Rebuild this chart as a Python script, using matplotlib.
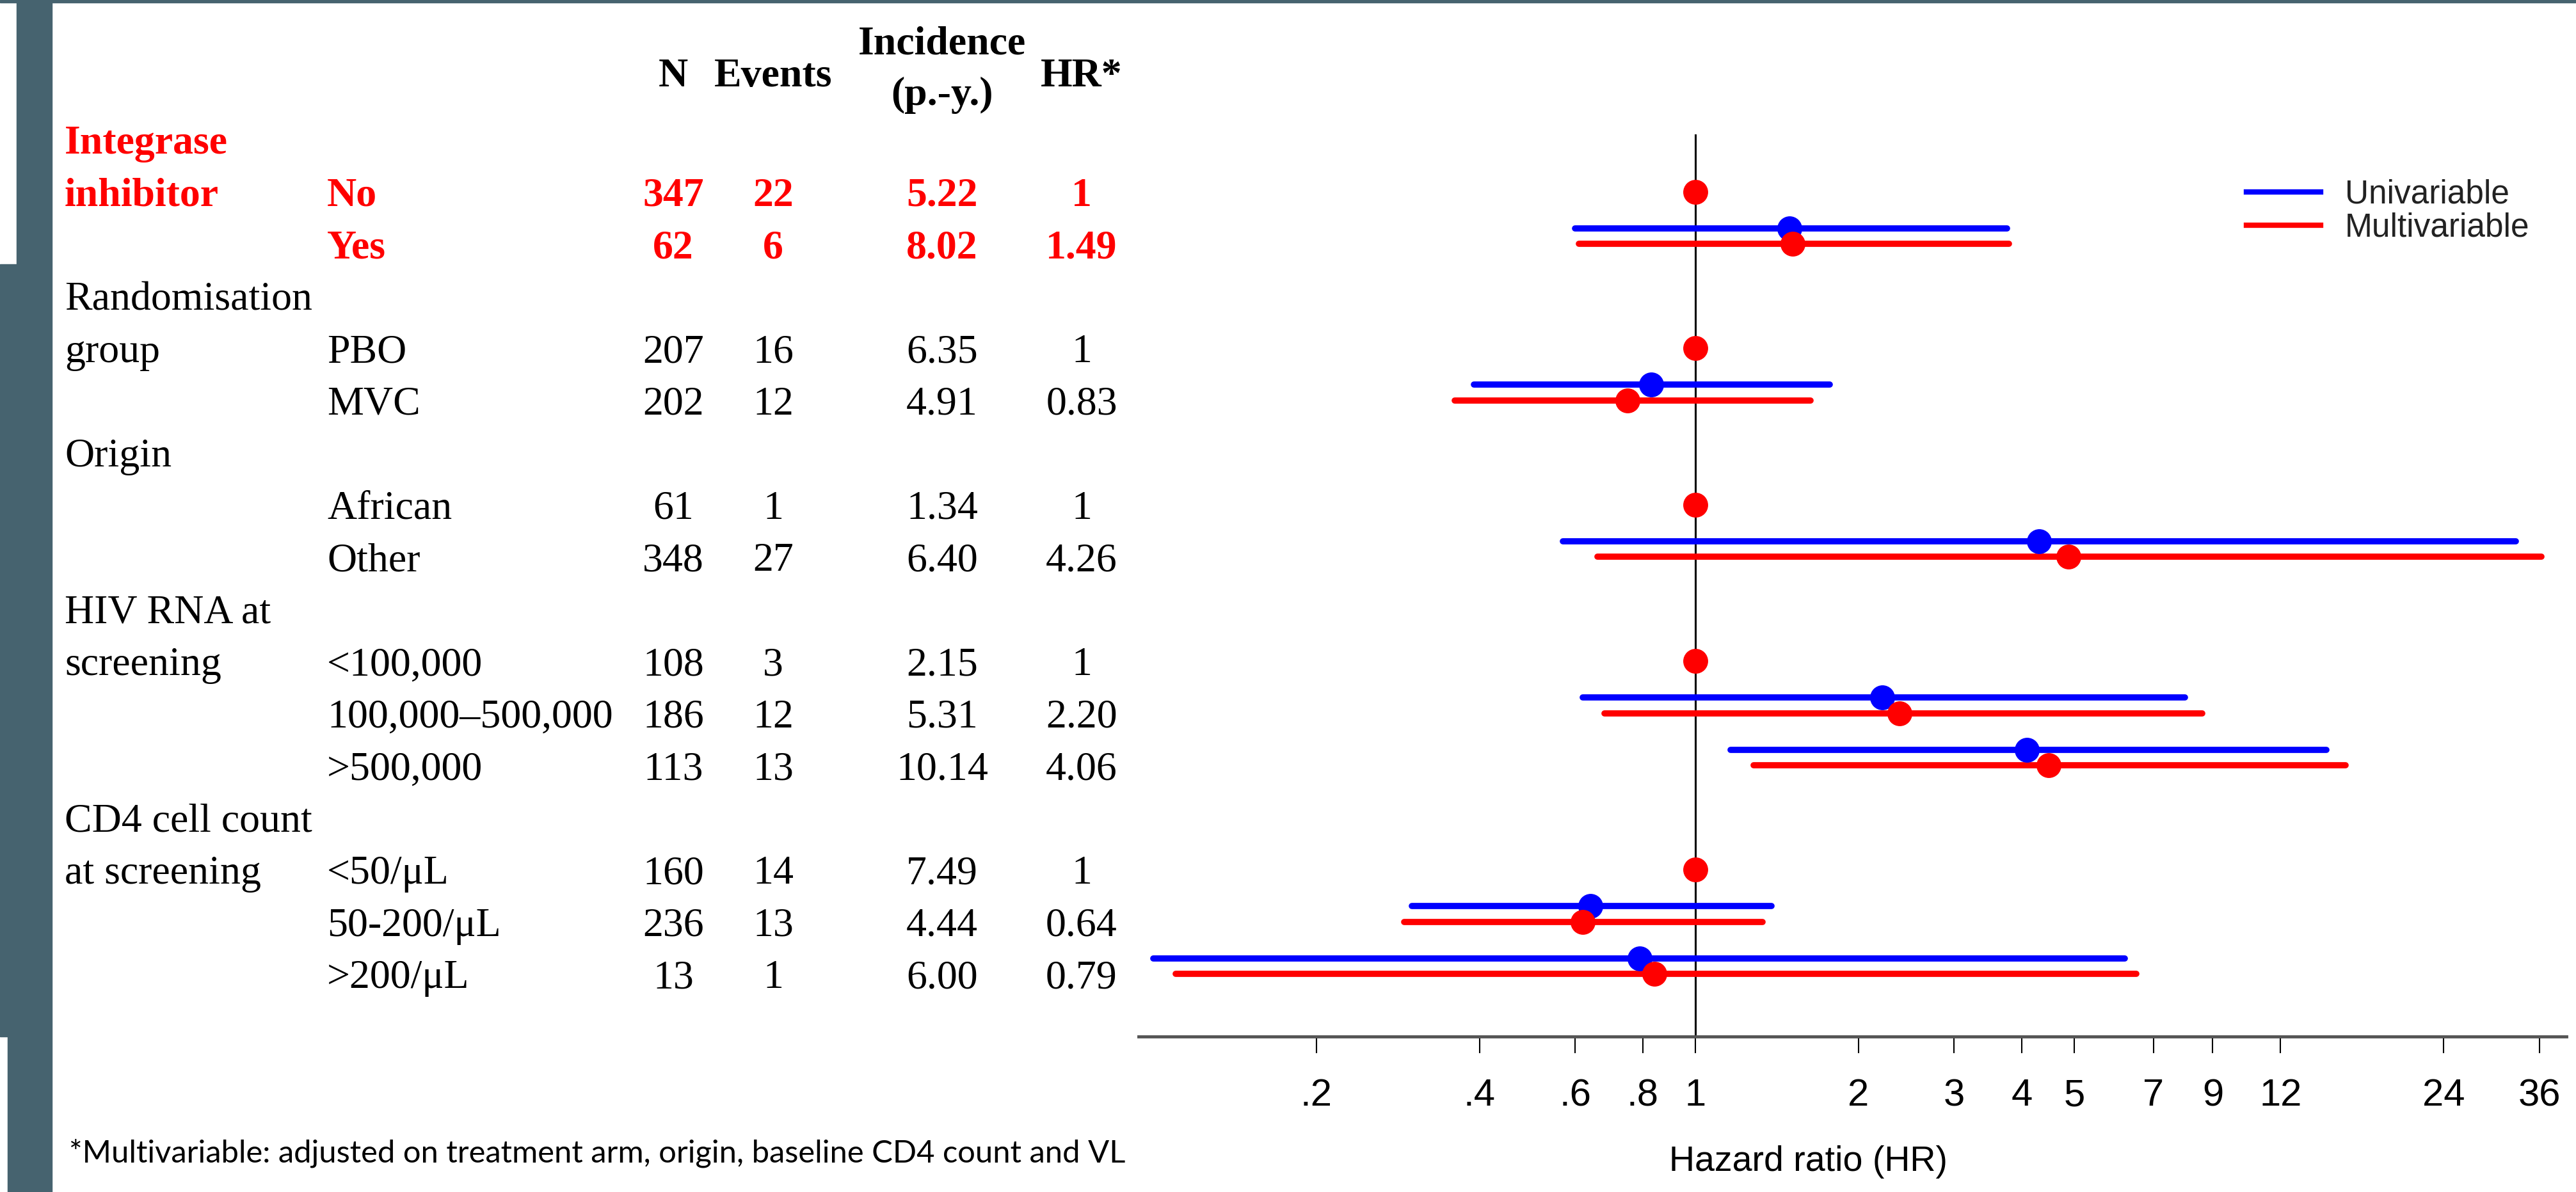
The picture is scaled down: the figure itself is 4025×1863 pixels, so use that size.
import matplotlib
matplotlib.use("Agg")
import matplotlib.pyplot as plt
import matplotlib.transforms as mtransforms
from matplotlib.lines import Line2D
from matplotlib.patches import Rectangle

plt.rcParams["font.family"] = ["Liberation Sans", "DejaVu Sans"]

# table, one entry per text line
group_labels = ["Integrase", "inhibitor", "", "Randomisation", "group", "", "Origin", "", "",
                "HIV RNA at", "screening", "", "", "CD4 cell count", "at screening", "", ""]
level_labels = ["", "No", "Yes", "", "PBO", "MVC", "", "African", "Other", "",
                "<100,000", "100,000–500,000", ">500,000", "", "<50/μL", "50-200/μL", ">200/μL"]
n_col = ["", "347", "62", "", "207", "202", "", "61", "348", "", "108", "186", "113", "", "160", "236", "13"]
events_col = ["", "22", "6", "", "16", "12", "", "1", "27", "", "3", "12", "13", "", "14", "13", "1"]
incidence_col = ["", "5.22", "8.02", "", "6.35", "4.91", "", "1.34", "6.40", "",
                 "2.15", "5.31", "10.14", "", "7.49", "4.44", "6.00"]
hr_col = ["", "1", "1.49", "", "1", "0.83", "", "1", "4.26", "", "1", "2.20", "4.06", "", "1", "0.64", "0.79"]
highlight_rows = [0, 1, 2]

# forest plot
ref_rows = [1, 4, 7, 10, 14]
cmp_rows = [2, 5, 8, 11, 12, 15, 16]
uni_hr = [1.49, 0.83, 4.30, 2.21, 4.09, 0.64, 0.79]
uni_lo = [0.60, 0.39, 0.57, 0.62, 1.16, 0.30, 0.10]
uni_hi = [3.76, 1.77, 32.6, 8.0, 14.6, 1.38, 6.2]
multi_hr = [1.51, 0.75, 4.87, 2.38, 4.48, 0.62, 0.84]
multi_lo = [0.61, 0.36, 0.66, 0.68, 1.28, 0.29, 0.11]
multi_hi = [3.79, 1.63, 36.3, 8.6, 15.8, 1.33, 6.5]
xticks = [0.2, 0.4, 0.6, 0.8, 1, 2, 3, 4, 5, 7, 9, 12, 24, 36]
xtick_labels = [".2", ".4", ".6", ".8", "1", "2", "3", "4", "5", "7", "9", "12", "24", "36"]

W, H = 4025, 1863
fig = plt.figure(figsize=(W / 100, H / 100), dpi=100)

# slide decoration on the left
deco = "#46636f"
fig.patches.append(Rectangle((26 / W, 0), 55 / W, 1, transform=fig.transFigure, color=deco, zorder=0))
fig.patches.append(Rectangle((0, 1 - 1620 / H), 26 / W, (1620 - 413) / H, transform=fig.transFigure, color=deco, zorder=0))
fig.patches.append(Rectangle((12 / W, 0), 14 / W, 1 - 1620 / H, transform=fig.transFigure, color=deco, zorder=0))
fig.patches.append(Rectangle((0, 1 - 4 / H), 1, 4 / H, transform=fig.transFigure, color=deco, zorder=0))

ax = fig.add_axes([1779 / W, 1 - 1620 / H, (4010 - 1779) / W, (1620 - 210) / H])
ax.set_xscale("log")
ax.set_xlim(0.094, 40.4)
ax.set_ylim(17.2, -0.1)

ax.axvline(1, color="black", lw=2.2, zorder=1)

off = -0.3
ax.hlines([r + off for r in cmp_rows], uni_lo, uni_hi, color="blue", lw=7, capstyle="round", zorder=2)
ax.plot(uni_hr, [r + off for r in cmp_rows], "o", color="blue", ms=28, mew=0, zorder=3)
ax.hlines(cmp_rows, multi_lo, multi_hi, color="red", lw=7, capstyle="round", zorder=2)
ax.plot(multi_hr, cmp_rows, "o", color="red", ms=28, mew=0, zorder=3)
ax.plot([1] * len(ref_rows), ref_rows, "o", color="red", ms=28, mew=0, zorder=3)

ax.set_xticks(xticks)
ax.set_xticklabels(xtick_labels)
ax.xaxis.set_minor_locator(matplotlib.ticker.NullLocator())
ax.set_yticks([])
ax.tick_params(axis="x", length=19, width=1.5, color="black", pad=28, labelsize=43)
for s in ["left", "top", "right"]:
    ax.spines[s].set_visible(False)
ax.spines["bottom"].set_color("#555555")
ax.spines["bottom"].set_linewidth(3.5)
ax.set_xlabel("Hazard ratio (HR)", fontsize=40, labelpad=36)
ax.xaxis.label.set_x((2826 - 1779) / (4010 - 1779))

handles = [Line2D([], [], color="blue", lw=6), Line2D([], [], color="red", lw=6)]
ax.legend(handles, ["Univariable", "Multivariable"], loc="upper left",
          bbox_to_anchor=(3510 / W, 1 - 280 / H), bbox_transform=fig.transFigure,
          frameon=False, fontsize=37, handlelength=2.25, handletextpad=0.75,
          labelspacing=0.05, borderpad=0, borderaxespad=0, labelcolor="#222222")

# table text, y follows the plot rows
tr = mtransforms.blended_transform_factory(fig.transFigure, ax.transData)
serif = ["Liberation Serif", "DejaVu Serif"]
col_x = [1052 / W, 1208 / W, 1472 / W, 1690 / W]
for i in range(len(group_labels)):
    red = i in highlight_rows
    kw = dict(transform=tr, family=serif, fontsize=46, va="center_baseline",
              color="red" if red else "black", fontweight="bold" if red else "normal")
    ax.text(101 / W, i, group_labels[i], ha="left", **kw)
    ax.text(511 / W, i, level_labels[i], ha="left", **kw)
    for x, col in zip(col_x, [n_col, events_col, incidence_col, hr_col]):
        ax.text(x, i, col[i], ha="center", **kw)

hkw = dict(transform=tr, family=serif, fontsize=46, va="center_baseline", ha="center", fontweight="bold")
ax.text(col_x[0], -1.29, "N", **hkw)
ax.text(col_x[1], -1.29, "Events", **hkw)
ax.text(col_x[2], -1.91, "Incidence", **hkw)
ax.text(col_x[2], -0.94, "(p.-y.)", **hkw)
ax.text(col_x[3], -1.29, "HR*", **hkw)

fig.text(108 / W, 1 - 1802 / H, "*Multivariable: adjusted on treatment arm, origin, baseline CD4 count and VL",
         family=["Lato", "DejaVu Sans"], fontsize=35.2, va="center", ha="left")

fig.savefig("out.png", dpi=100)
